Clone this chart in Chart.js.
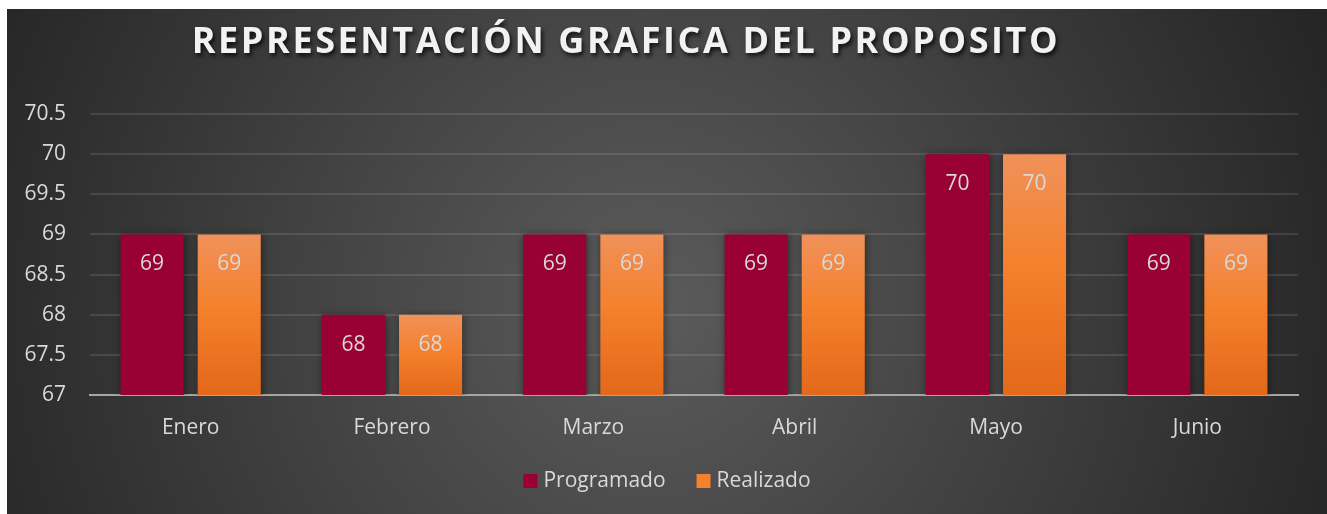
<!DOCTYPE html>
<html>
<head>
<meta charset="utf-8">
<script src="https://cdn.jsdelivr.net/npm/chart.js@4/dist/chart.umd.min.js"></script>
<style>
    html, body { margin: 0; padding: 0; background: #ffffff; }
    #wrap { position: absolute; left: 7px; top: 9px; width: 1320px; height: 505px; }
</style>
</head>
<body>
<div id="wrap"><canvas id="chart"></canvas></div>
<script>
// chart data
const months = ["Enero", "Febrero", "Marzo", "Abril", "Mayo", "Junio"];
const programado = [69, 68, 69, 69, 70, 69];
const realizado = [69, 68, 69, 69, 70, 69];
const yMin = 67;
const yMax = 70.5;
const yStep = 0.5;
const chartTitle = "REPRESENTACIÓN GRAFICA DEL PROPOSITO";

const FONT = "'Open Sans', 'Noto Sans', sans-serif";
const TEXT = "#d9d9d9";

// dark radial background like the Excel style
const backgroundPlugin = {
    id: "bg",
    beforeDraw(chart) {
        const ctx = chart.ctx;
        const w = chart.width, h = chart.height;
        ctx.save();
        const g = ctx.createRadialGradient(640, 300, 20, 640, 300, 760);
        g.addColorStop(0, "#5a5a5a");
        g.addColorStop(0.55, "#3c3c3c");
        g.addColorStop(1, "#232323");
        ctx.fillStyle = g;
        ctx.fillRect(0, 0, w, h);
        ctx.restore();
    }
};

// big bold title with shadow
const titlePlugin = {
    id: "bigTitle",
    afterDraw(chart) {
        const ctx = chart.ctx;
        ctx.save();
        ctx.font = "bold 36px " + FONT;
        ctx.letterSpacing = "2.6px";
        ctx.textAlign = "center";
        ctx.textBaseline = "middle";
        ctx.shadowColor = "rgba(0,0,0,0.75)";
        ctx.shadowOffsetX = 2;
        ctx.shadowOffsetY = 3;
        ctx.shadowBlur = 4;
        ctx.fillStyle = "#f2f2f2";
        ctx.fillText(chartTitle, 619, 34);
        ctx.restore();
    }
};

// legend drawn by hand so the spacing matches
const legendPlugin = {
    id: "customLegend",
    afterDraw(chart) {
        const ctx = chart.ctx;
        const items = chart.data.datasets.map((ds, i) => ({
            text: ds.label,
            color: i === 0 ? "#990033" : "#f4812d"
        }));
        ctx.save();
        ctx.font = "21px " + FONT;
        ctx.textBaseline = "middle";
        const box = 14, gap = 6, itemGap = 31;
        let total = 0;
        items.forEach((it, i) => {
            it.w = ctx.measureText(it.text).width;
            total += box + gap + it.w + (i ? itemGap : 0);
        });
        let x = chart.width / 2 - total / 2;
        const y = 472;
        items.forEach((it) => {
            ctx.fillStyle = it.color;
            ctx.fillRect(x, y - box / 2, box, box);
            x += box + gap;
            ctx.fillStyle = TEXT;
            ctx.fillText(it.text, x, y);
            x += it.w + itemGap;
        });
        ctx.restore();
    }
};

// value labels inside the top of each bar
const valueLabels = {
    id: "valueLabels",
    afterDatasetsDraw(chart) {
        const ctx = chart.ctx;
        ctx.save();
        ctx.font = "21px " + FONT;
        ctx.fillStyle = TEXT;
        ctx.textAlign = "center";
        ctx.textBaseline = "middle";
        chart.data.datasets.forEach((ds, i) => {
            chart.getDatasetMeta(i).data.forEach((bar, j) => {
                ctx.fillText(String(ds.data[j]), bar.x, bar.y + 30);
            });
        });
        ctx.restore();
    }
};

// soft shadow behind the bars
const barShadow = {
    id: "barShadow",
    beforeDatasetsDraw(chart) {
        const ctx = chart.ctx;
        ctx.save();
        ctx.shadowColor = "rgba(0,0,0,0.45)";
        ctx.shadowBlur = 8;
        ctx.shadowOffsetX = 1;
        ctx.shadowOffsetY = 1;
    },
    afterDatasetsDraw(chart) {
        chart.ctx.restore();
    }
};

function orangeFill(context) {
    const chart = context.chart;
    if (!chart.chartArea || context.raw === undefined) return "#f4812d";
    const y = chart.scales.y;
    const top = y.getPixelForValue(context.raw);
    const base = y.getPixelForValue(yMin);
    const g = chart.ctx.createLinearGradient(0, top, 0, base);
    g.addColorStop(0, "#f0915a");
    g.addColorStop(0.45, "#f4812d");
    g.addColorStop(1, "#e4681a");
    return g;
}

new Chart(document.getElementById("chart"), {
    type: "bar",
    data: {
        labels: months,
        datasets: [
            {
                label: "Programado",
                data: programado,
                backgroundColor: "#990033",
                borderWidth: 0,
                categoryPercentage: 0.766,
                barPercentage: 0.818
            },
            {
                label: "Realizado",
                data: realizado,
                backgroundColor: orangeFill,
                borderWidth: 0,
                categoryPercentage: 0.766,
                barPercentage: 0.818
            }
        ]
    },
    options: {
        responsive: true,
        maintainAspectRatio: false,
        animation: false,
        layout: { padding: { top: 105, right: 29, left: 0, bottom: 0 } },
        plugins: {
            title: { display: false },
            tooltip: { enabled: false },
            legend: { display: false }
        },
        scales: {
            x: {
                grid: { display: false },
                border: { display: true, color: "#a6a6a6", width: 2 },
                ticks: { color: TEXT, font: { family: FONT, size: 21 }, padding: 12 },
                afterFit(scale) { scale.height = 119; }
            },
            y: {
                min: yMin,
                max: yMax,
                ticks: {
                    stepSize: yStep,
                    color: TEXT,
                    font: { family: FONT, size: 21 },
                    padding: 24,
                    callback: (v) => String(Number(v))
                },
                grid: { color: "rgba(255,255,255,0.11)", lineWidth: 2, drawTicks: false },
                border: { display: false },
                afterFit(scale) { scale.width = 83; }
            }
        }
    },
    plugins: [backgroundPlugin, barShadow, valueLabels, legendPlugin, titlePlugin]
});
</script>
</body>
</html>
